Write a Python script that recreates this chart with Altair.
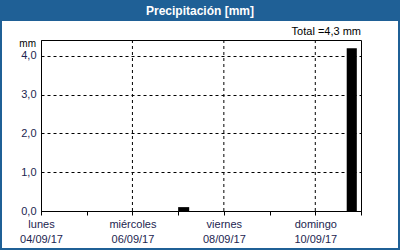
import altair as alt
import pandas as pd

# Data
bar_start = [72.0, 160.5]      # hours since 04/09/17 00:00
bar_end = [77.8, 165.8]
bar_value = [0.1, 4.2]
day_names = ["lunes", "martes", "miércoles", "jueves", "viernes", "sábado", "domingo"]
day_dates = ["04/09/17", "05/09/17", "06/09/17", "07/09/17", "08/09/17", "09/09/17", "10/09/17"]
labelled_days = [0, 2, 4, 6]
vgrid_hours = [48, 96, 144]
y_ticks = [0, 1, 2, 3, 4]
title_text = "Precipitación [mm]"
total_text = "Total =4,3 mm"
unit_text = "mm"

W, H = 320, 171
PL, PT = 41, 40
BLUE = "#1f6096"
TXT = "#1c2550"
FONT = "Liberation Sans"

bars_df = pd.DataFrame({"start": bar_start, "end": bar_end, "value": bar_value,
                        "base": [0.0] * len(bar_value)})

label_expr = " : ".join(
    [f"datum.value == {d*24} ? ['{day_names[d]}', '{day_dates[d]}']" for d in labelled_days]
) + " : ''"

xscale = alt.Scale(domain=[0, 168], nice=False, zero=False)
yscale = alt.Scale(domain=[0, 4.41], nice=False)

bars = alt.Chart(bars_df).mark_rect(color="black").encode(
    x=alt.X("start:Q", scale=xscale, axis=alt.Axis(
        values=[d * 24 for d in range(8)], labelExpr=label_expr, grid=False,
        domainColor="black", tickColor="black", tickSize=4, labelFlush=False,
        labelAlign="center", labelBaseline="top", labelPadding=3, labelLineHeight=15,
        labelFont=FONT, labelFontSize=11, labelColor=TXT, title=None)),
    x2="end:Q",
    y=alt.Y("value:Q", scale=yscale, axis=alt.Axis(
        values=y_ticks, labelExpr="replace(format(datum.value, '.1f'), '.', ',')",
        grid=True, gridColor="black", gridDash=[3, 3], gridOpacity=1,
        ticks=False, domainColor="black", labelPadding=5,
        labelFont=FONT, labelFontSize=11, labelColor=TXT, title=None)),
    y2="base:Q",
)

vgrid = alt.Chart(pd.DataFrame({"h": vgrid_hours})).mark_rule(
    color="black", strokeDash=[3, 3], strokeWidth=1).encode(
    x=alt.X("h:Q", scale=xscale))

one = alt.Data(values=[{}])

title_bar = alt.Chart(one).mark_rect(color=BLUE).encode(
    x=alt.value(-PL), x2=alt.value(400 - PL), y=alt.value(-PT), y2=alt.value(21 - PT))

border = alt.Chart(one).mark_rect(fill=None, stroke=BLUE, strokeWidth=2).encode(
    x=alt.value(-PL + 1), x2=alt.value(399 - PL), y=alt.value(-PT + 1), y2=alt.value(249 - PT))

title = alt.Chart(one).mark_text(
    text=title_text, color="white", font=FONT, fontSize=12, fontWeight="bold",
    align="center", baseline="middle").encode(
    x=alt.value(200 - PL), y=alt.value(11 - PT))

total = alt.Chart(one).mark_text(
    text=total_text, color="black", font=FONT, fontSize=11,
    align="right", baseline="middle").encode(
    x=alt.value(W), y=alt.value(32 - PT))

unit = alt.Chart(one).mark_text(
    text=unit_text, color="black", font=FONT, fontSize=10,
    align="right", baseline="alphabetic").encode(
    x=alt.value(-5), y=alt.value(47 - PT))

chart = alt.layer(vgrid, bars, title_bar, border, title, total, unit).properties(
    width=W, height=H,
    autosize=alt.AutoSizeParams(type="none"),
    padding={"left": PL, "top": PT, "right": 400 - PL - W, "bottom": 250 - PT - H},
    background="white",
).configure_view(stroke="black", strokeWidth=1)

chart.save("out.html", embed_options={"renderer": "svg", "actions": False})
